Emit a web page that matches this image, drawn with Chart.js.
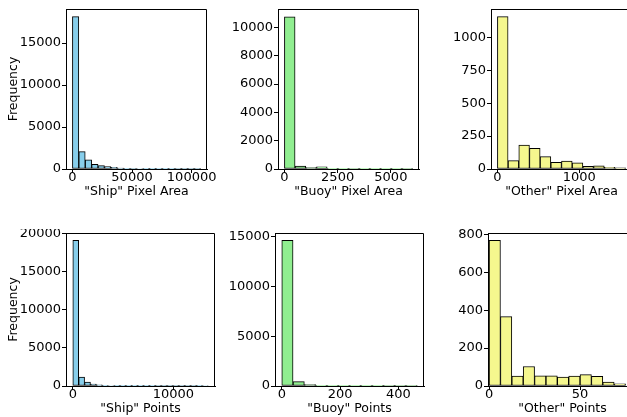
<!DOCTYPE html>
<html>
<head>
<meta charset="utf-8">
<script src="https://cdn.jsdelivr.net/npm/chart.js@4.4.1/dist/chart.umd.min.js"></script>
<style>
  body { margin: 0; width: 627px; height: 417px; overflow: hidden; background: #fff; position: relative; }
  canvas { position: absolute; }
</style>
</head>
<body>
<script>
// Histogram counts (one array per panel)
const shipAreaCounts  = [18150, 2070, 1080, 560, 400, 280, 190, 120, 90, 70, 60, 45, 30, 20, 15, 12, 8, 6, 4, 5];
const buoyAreaCounts  = [10750, 200, 100, 150, 50, 20, 40, 20, 15, 20, 10, 5];
const otherAreaCounts = [1157, 63, 182, 157, 94, 51, 61, 46, 20, 25, 13, 8];
const shipPtsCounts   = [19130, 1180, 520, 260, 150, 100, 70, 50, 40, 30, 25, 20, 15, 12, 10, 8, 6, 5, 5, 4, 3, 20, 60];
const buoyPtsCounts   = [14660, 434, 150, 60, 40, 30, 20, 15, 10, 8, 5, 5];
const otherPtsCounts  = [768, 366, 52, 103, 54, 54, 47, 52, 60, 51, 21, 12];

// Bin ranges (first edge, last edge)
const shipAreaRange  = [0, 107500];
const buoyAreaRange  = [0, 6020];
const otherAreaRange = [0, 1566];
const shipPtsRange   = [0, 13480];
const buoyPtsRange   = [0, 465];
const otherPtsRange  = [0, 75];

// Tick labels
const shipAreaXTicks  = [0, 50000, 100000];
const buoyAreaXTicks  = [0, 2500, 5000];
const otherAreaXTicks = [0, 1000];
const shipPtsXTicks   = [0, 10000];
const buoyPtsXTicks   = [0, 200, 400];
const otherPtsXTicks  = [0, 50];
const shipAreaYTicks  = [0, 5000, 10000, 15000];
const buoyAreaYTicks  = [0, 2000, 4000, 6000, 8000, 10000];
const otherAreaYTicks = [0, 250, 500, 750, 1000];
const shipPtsYTicks   = [0, 5000, 10000, 15000, 20000];
const buoyPtsYTicks   = [0, 5000, 10000, 15000];
const otherPtsYTicks  = [0, 200, 400, 600, 800];

const SHIP = '#87ceeb', BUOY = '#90ee90', OTHER = '#f5f78e';
const font = { family: 'DejaVu Sans', size: 12.5 };
const tickFont = { family: 'DejaVu Sans', size: 13 };

const Y_W = 66, X_H = 30, PAD_T = 4, PAD_R = 30;

const panels = [
  { counts: shipAreaCounts, range: shipAreaRange, xMin: -5375, xMax: 112875, yMax: 19050, xTicks: shipAreaXTicks, yTicks: shipAreaYTicks, color: SHIP, xLabel: '"Ship" Pixel Area', yLabel: 'Frequency', box: [66, 9, 141, 160] },
  { counts: buoyAreaCounts, range: buoyAreaRange, xMin: -301, xMax: 6321, yMax: 11295, xTicks: buoyAreaXTicks, yTicks: buoyAreaYTicks, color: BUOY, xLabel: '"Buoy" Pixel Area', box: [278.3, 9, 141, 160] },
  { counts: otherAreaCounts, range: otherAreaRange, xMin: -78.3, xMax: 1644, yMax: 1215, xTicks: otherAreaXTicks, yTicks: otherAreaYTicks, color: OTHER, xLabel: '"Other" Pixel Area', box: [490.7, 9, 141, 160] },
  { counts: shipPtsCounts, range: shipPtsRange, xMin: -677, xMax: 14149, yMax: 20085, xTicks: shipPtsXTicks, yTicks: shipPtsYTicks, color: SHIP, xLabel: '"Ship" Points', yLabel: 'Frequency', box: [66, 232.5, 149, 153] },
  { counts: buoyPtsCounts, range: buoyPtsRange, xMin: -23.25, xMax: 488.25, yMax: 15400, xTicks: buoyPtsXTicks, yTicks: buoyPtsYTicks, color: BUOY, xLabel: '"Buoy" Points', box: [275, 232.5, 149, 153] },
  { counts: otherPtsCounts, range: otherPtsRange, xMin: -0.6, xMax: 81.3, yMax: 807, xTicks: otherPtsXTicks, yTicks: otherPtsYTicks, color: OTHER, xLabel: '"Other" Points', box: [488.3, 232.5, 149, 153] }
];

// draws the top and right spines
const frame = {
  id: 'frame',
  afterDraw(chart) {
    const { ctx, chartArea: a } = chart;
    ctx.save();
    ctx.strokeStyle = '#000';
    ctx.lineWidth = 1;
    ctx.beginPath();
    const t = Math.round(a.top) + 0.5, r = Math.round(a.right) - 0.5;
    ctx.moveTo(a.left, t);
    ctx.lineTo(r, t);
    ctx.lineTo(r, a.bottom);
    ctx.stroke();
    ctx.restore();
  }
};

function makeChart(p) {
  const canvas = document.createElement('canvas');
  canvas.width = Math.round(Y_W + p.box[2] + PAD_R);
  canvas.height = Math.round(PAD_T + p.box[3] + X_H);
  canvas.style.left = (p.box[0] - Y_W) + 'px';
  canvas.style.top = (p.box[1] - PAD_T) + 'px';
  document.body.appendChild(canvas);

  const step = (p.range[1] - p.range[0]) / p.counts.length;
  const data = p.counts.map((c, i) => ({ x: p.range[0] + step * (i + 0.5), y: c }));

  new Chart(canvas, {
    type: 'bar',
    data: {
      datasets: [{
        data: data,
        backgroundColor: p.color,
        borderColor: '#000',
        borderWidth: 1,
        borderSkipped: false,
        barPercentage: 1,
        categoryPercentage: 1
      }]
    },
    options: {
      responsive: false,
      animation: false,
      devicePixelRatio: 1,
      layout: { padding: { top: PAD_T, right: PAD_R, left: 0, bottom: 0 } },
      plugins: { legend: { display: false }, tooltip: { enabled: false } },
      scales: {
        x: {
          type: 'linear',
          offset: false,
          min: p.xMin,
          max: p.xMax,
          afterBuildTicks: s => { s.ticks = p.xTicks.map(v => ({ value: v })); },
          afterFit: s => { s.height = X_H; s.paddingLeft = 0; s.paddingRight = 0; },
          grid: { offset: false, drawOnChartArea: false, drawTicks: true, tickLength: 4, tickColor: '#000' },
          border: { color: '#000', width: 1 },
          ticks: { font: tickFont, color: '#000', padding: -3, maxRotation: 0, autoSkip: false, callback: v => String(v) },
          title: { display: true, text: p.xLabel, font: font, color: '#000', padding: 0 }
        },
        y: {
          min: 0,
          max: p.yMax,
          afterBuildTicks: s => { s.ticks = p.yTicks.map(v => ({ value: v })); },
          afterFit: s => { s.width = Y_W; s.paddingTop = 0; s.paddingBottom = 0; },
          grid: { drawOnChartArea: false, drawTicks: true, tickLength: 4, tickColor: '#000' },
          border: { color: '#000', width: 1 },
          ticks: { font: tickFont, color: '#000', padding: 1, autoSkip: false, callback: v => String(v) },
          title: { display: !!p.yLabel, text: p.yLabel || '', font: font, color: '#000', padding: { top: 6.5, bottom: 0 } }
        }
      }
    },
    plugins: [frame]
  });
}

panels.forEach(makeChart);
</script>
</body>
</html>
